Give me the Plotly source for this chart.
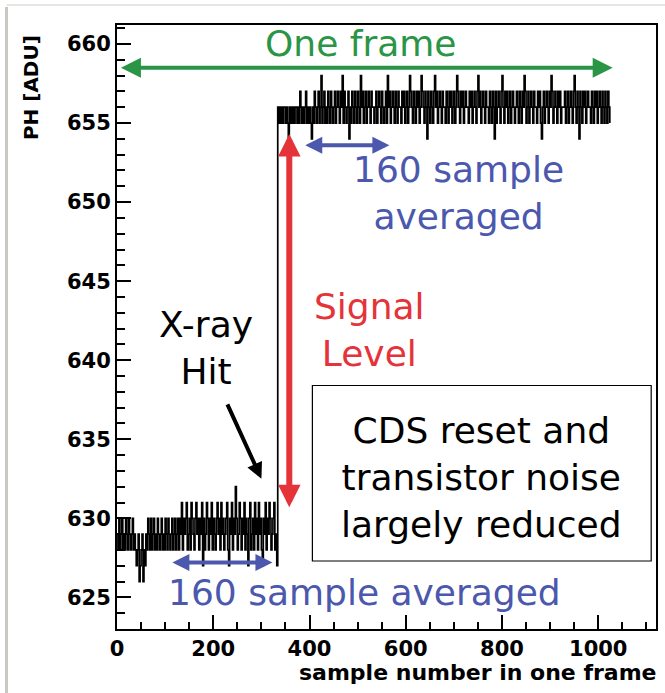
import plotly.graph_objects as go
import numpy as np

# ---------------- data ----------------
SAMPLE_STEP = 2  # each listed value spans 2 samples

# pulse height [ADU] before the X-ray hit, quiet start (samples 0..128)
ph_before_hit_a = [
    629, 628, 630, 628, 629, 630, 628, 629, 628, 630, 629, 628, 630, 629, 628, 629, 630, 628, 629, 628,
    627, 628, 629, 626, 627, 628, 629, 626, 628, 627, 629, 628, 630, 629, 628, 630, 628, 629, 630, 628,
    629, 628, 630, 629, 628, 629, 630, 628, 629, 628, 630, 629, 628, 630, 629, 628, 629, 630, 628, 629,
    630, 628, 629, 630, 628,
]
# pulse height [ADU] before the X-ray hit (samples 130..332)
ph_before_hit_b = [
    630, 629, 631, 628, 630, 629, 630, 631, 628, 629, 630, 628, 631, 630, 629, 628, 630, 631, 629, 630,
    628, 630, 629, 631, 627, 630, 628, 629, 631, 630, 628, 630, 629, 631, 628, 630, 629, 628, 630, 631,
    629, 630, 628, 631, 629, 630, 628, 629, 630, 631, 628, 627, 630, 629, 631, 628, 630, 629, 632, 630,
    628, 629, 631, 630, 628, 630, 629, 631, 628, 630, 629, 627, 630, 631, 628, 629, 630, 628, 631, 629,
    630, 628, 631, 629, 630, 628, 627, 630, 629, 631, 628, 630, 629, 631, 630, 628, 629, 630, 631, 628,
    629, 627,
]
# pulse height [ADU] after the X-ray hit (samples 334..1024)
ph_after_hit = [
    656, 655, 656, 655, 656, 655, 656, 656, 655, 656, 655, 654, 656, 655, 656, 655, 656, 655, 656, 656,
    655, 656, 655, 657, 656, 655, 656, 655, 656, 657, 655, 656, 655, 656, 655, 654, 656, 655, 657, 656,
    655, 656, 657, 655, 656, 658, 655, 656, 657, 655, 656, 655, 657, 656, 655, 657, 656, 655, 656, 657,
    655, 656, 657, 656, 655, 657, 656, 658, 655, 657, 656, 655, 656, 657, 654, 656, 655, 657, 656, 655,
    657, 656, 655, 657, 656, 655, 658, 656, 657, 655, 656, 657, 655, 656, 657, 656, 655, 657, 656, 656,
    655, 656, 657, 655, 656, 657, 656, 655, 657, 656, 655, 656, 657, 655, 658, 656, 657, 655, 656, 657,
    656, 655, 657, 656, 655, 657, 656, 656, 655, 657, 656, 657, 655, 656, 657, 655, 656, 658, 657, 656,
    655, 657, 656, 655, 657, 656, 657, 655, 656, 658, 657, 656, 655, 657, 656, 654, 657, 656, 655, 657,
    656, 655, 657, 658, 656, 657, 655, 656, 657, 656, 655, 657, 656, 656, 655, 657, 656, 655, 657, 656,
    657, 655, 656, 657, 655, 656, 658, 657, 656, 655, 657, 656, 657, 655, 656, 657, 656, 656, 655, 657,
    656, 657, 655, 656, 657, 656, 655, 657, 658, 656, 657, 655, 656, 657, 656, 655, 657, 656, 656, 655,
    657, 656, 655, 657, 656, 654, 657, 655, 656, 657, 656, 655, 657, 658, 656, 655, 657, 656, 657, 655,
    656, 657, 655, 656, 657, 656, 655, 656, 657, 656, 655, 657, 656, 655, 657, 656, 658, 657, 655, 656,
    657, 655, 656, 657, 656, 655, 657, 656, 656, 655, 657, 656, 657, 655, 654, 656, 657, 655, 656, 657,
    656, 655, 657, 656, 658, 657, 655, 656, 657, 656, 655, 657, 656, 657, 655, 656, 656, 656, 657, 655,
    656, 657, 655, 656, 657, 656, 655, 657, 658, 656, 655, 657, 656, 654, 657, 656, 655, 657, 656, 657,
    655, 656, 657, 656, 656, 655, 657, 656, 655, 657, 656, 657, 655, 656, 657, 656, 655, 657, 656, 655,
    657, 656, 655, 657, 656, 655,
]
ph_adu = ph_before_hit_a + ph_before_hit_b + ph_after_hit
sample_number = np.arange(len(ph_adu)) * SAMPLE_STEP

x_tick_vals = [0, 200, 400, 600, 800, 1000]
y_tick_vals = [625, 630, 635, 640, 645, 650, 655, 660]

GREEN = "#2b9546"
BLUE = "#4b58ad"
RED = "#e5333a"
FONT = "DejaVu Sans, Liberation Sans, Arial, sans-serif"

fig = go.Figure()
fig.add_trace(go.Scatter(
    x=sample_number, y=ph_adu, mode="lines",
    line=dict(color="black", width=1.7, shape="hv"),
    showlegend=False, hoverinfo="skip",
))

fig.update_layout(
    width=665, height=693,
    margin=dict(l=117, r=7, t=25, b=64),
    paper_bgcolor="white", plot_bgcolor="white",
    font=dict(family=FONT, color="black"),
    showlegend=False,
)
fig.update_xaxes(
    range=[0, 1120], tickvals=x_tick_vals, ticks="inside", ticklen=14, tickwidth=2,
    tickcolor="black", showline=True, linecolor="black", linewidth=2, mirror=True,
    showgrid=False, zeroline=False,
    tickfont=dict(family=FONT, size=21, weight="bold", color="black"),
    minor=dict(dtick=50, ticks="inside", ticklen=7, tickwidth=2, tickcolor="black", showgrid=False),
)
fig.update_yaxes(
    range=[623, 661.2], tickvals=y_tick_vals, ticks="inside", ticklen=14, tickwidth=2,
    tickcolor="black", showline=True, linecolor="black", linewidth=2, mirror=True,
    showgrid=False, zeroline=False,
    tickfont=dict(family=FONT, size=21, weight="bold", color="black"),
    minor=dict(dtick=1, ticks="inside", ticklen=8, tickwidth=2, tickcolor="black", showgrid=False),
)

ann = []
# axis titles (ROOT style, at the end of axes)
ann.append(dict(xref="paper", yref="paper", x=1.005, y=-0.072, xanchor="right", yanchor="middle",
                text="<b>sample number in one frame</b>", showarrow=False,
                font=dict(family=FONT, size=22, color="black")))
ann.append(dict(xref="paper", yref="paper", x=-0.159, y=0.896, xanchor="center", yanchor="middle",
                textangle=-90, text="<b>PH [ADU]</b>", showarrow=False,
                font=dict(family=FONT, size=20, color="black")))


def double_arrow(x0, y0, x1, y1, color, width, size):
    return dict(xref="x", yref="y", axref="x", ayref="y", x=x1, y=y1, ax=x0, ay=y0,
                text="", showarrow=True, arrowhead=2, startarrowhead=2, arrowside="end+start",
                arrowcolor=color, arrowwidth=width, arrowsize=size, startarrowsize=size,
                standoff=0, startstandoff=0)


def label(x, y, text, color, size=36):
    return dict(xref="x", yref="y", x=x, y=y, text=text, showarrow=False,
                xanchor="center", yanchor="middle", align="center",
                font=dict(family=FONT, size=size, color=color))


# One frame
ann.append(double_arrow(5, 658.5, 1030, 658.5, GREEN, 4, 1.0))
ann.append(label(507, 660.0, "One frame", GREEN))
# 160 sample averaged (top)
ann.append(double_arrow(388, 653.6, 566, 653.6, BLUE, 4, 0.85))
ann.append(label(710, 650.6, "160 sample<br>averaged", BLUE))
# 160 sample averaged (bottom)
ann.append(double_arrow(112, 627.2, 323, 627.2, BLUE, 4, 0.85))
ann.append(label(515, 625.3, "160 sample averaged", BLUE))
# Signal level
ann.append(double_arrow(358, 630.6, 358, 654.3, RED, 6, 0.75))
ann.append(label(524, 641.9, "Signal<br>Level", RED))
# X-ray hit
ann.append(label(184, 640.8, "X-ray<br>Hit", "black"))
ann.append(dict(xref="x", yref="y", axref="x", ayref="y", x=300, y=632.5, ax=228, ay=637.3,
                text="", showarrow=True, arrowhead=2, arrowcolor="black", arrowwidth=4,
                arrowsize=0.8, standoff=0))
# CDS box text
ann.append(label(758, 632.6, "CDS reset and<br>transistor noise<br>largely reduced", "black"))

fig.update_layout(annotations=ann)

fig.add_shape(type="rect", xref="x", yref="y", x0=406, x1=1110, y0=627.3, y1=638.4,
              line=dict(color="black", width=1.2), fillcolor="rgba(0,0,0,0)")
# faint scan border of the original figure
fig.add_shape(type="line", xref="paper", yref="paper", x0=-0.205, x1=-0.205, y0=1.03, y1=-0.11,
              line=dict(color="#c9c9c1", width=3))
fig.add_shape(type="line", xref="paper", yref="paper", x0=-0.205, x1=1.02, y0=1.033, y1=1.033,
              line=dict(color="#e6e6e2", width=2))

fig.write_html("out.html")
